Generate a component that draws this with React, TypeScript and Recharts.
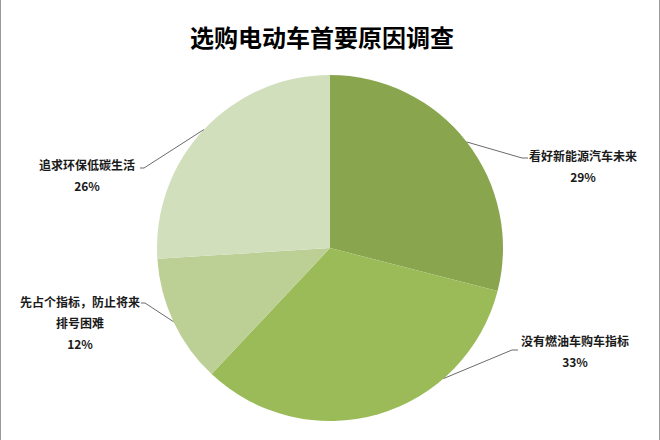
import React from 'react';
import { PieChart, Pie, Cell } from 'recharts';

const categories = ['看好新能源汽车未来', '没有燃油车购车指标', '先占个指标，防止将来排号困难', '追求环保低碳生活'];
const shares = [29, 33, 12, 26];
const sliceColors = ['#89a54e', '#9bbb59', '#bccf95', '#d2dfbd'];

// label placement relative to pie centre (Excel-style leader lines)
const labelLayout = [
  { angle: null, elbow: [192, -90], stub: 6, tx: 253, lines: ['看好新能源汽车未来'], ty: -93 },
  { angle: -49, elbow: [182, 102], stub: 6, tx: 245, lines: ['没有燃油车购车指标'], ty: 92 },
  { angle: null, elbow: [-185, 55], stub: -4, tx: -250, lines: ['先占个指标，防止将来', '排号困难'], ty: 53 },
  { angle: null, elbow: [-186, -80], stub: -4, tx: -243, lines: ['追求环保低碳生活'], ty: -84 },
];

const data = categories.map((name, i) => ({ name, value: shares[i] }));

const RAD = Math.PI / 180;

function LeaderLabel(props: any) {
  const { cx, cy, outerRadius, midAngle, index, value } = props;
  const lay = labelLayout[index];
  const ang = lay.angle ?? midAngle;
  const sx = cx + outerRadius * Math.cos(ang * RAD);
  const sy = cy - outerRadius * Math.sin(ang * RAD);
  const ex = cx + lay.elbow[0];
  const ey = cy + lay.elbow[1];
  const lines = [...lay.lines, value + '%'];
  const textX = cx + lay.tx;
  return (
    <g>
      <polyline
        points={`${sx},${sy} ${ex},${ey} ${ex + lay.stub},${ey}`}
        fill="none"
        stroke="#6b6b6b"
        strokeWidth={1}
      />
      {lines.map((t, k) => (
        <text
          key={k}
          x={textX}
          y={cy + lay.ty + k * 21}
          textAnchor="middle"
          dominantBaseline="central"
          fontSize={12}
          fontWeight="bold"
          fill="#1a1a1a"
          fontFamily='"Noto Sans CJK SC", sans-serif'
        >
          {t}
        </text>
      ))}
    </g>
  );
}

export default function App() {
  return (
    <div
      style={{
        position: 'absolute',
        left: 0,
        top: 0,
        width: 658,
        height: 440,
        background: '#fff',
        borderLeft: '1px solid #9a9a9a',
        borderRight: '1px solid #9a9a9a',
      }}
    >
      <div
        style={{
          position: 'absolute',
          left: 0,
          top: 19,
          width: 642,
          textAlign: 'center',
          fontFamily: '"Noto Sans CJK SC", sans-serif',
          fontWeight: 'bold',
          fontSize: 24,
          lineHeight: '36px',
          color: '#000',
        }}
      >
        选购电动车首要原因调查
      </div>
      <PieChart
        width={658}
        height={440}
        margin={{ top: 0, right: 0, bottom: 0, left: 0 }}
        style={{ position: 'absolute', left: -1, top: 0 }}
      >
        <Pie
          data={data}
          dataKey="value"
          nameKey="name"
          cx={330}
          cy={248}
          outerRadius={173}
          startAngle={90}
          endAngle={-270}
          stroke="none"
          label={LeaderLabel}
          labelLine={false}
          isAnimationActive={false}
        >
          {data.map((d, i) => (
            <Cell key={d.name} fill={sliceColors[i]} />
          ))}
        </Pie>
      </PieChart>
    </div>
  );
}
